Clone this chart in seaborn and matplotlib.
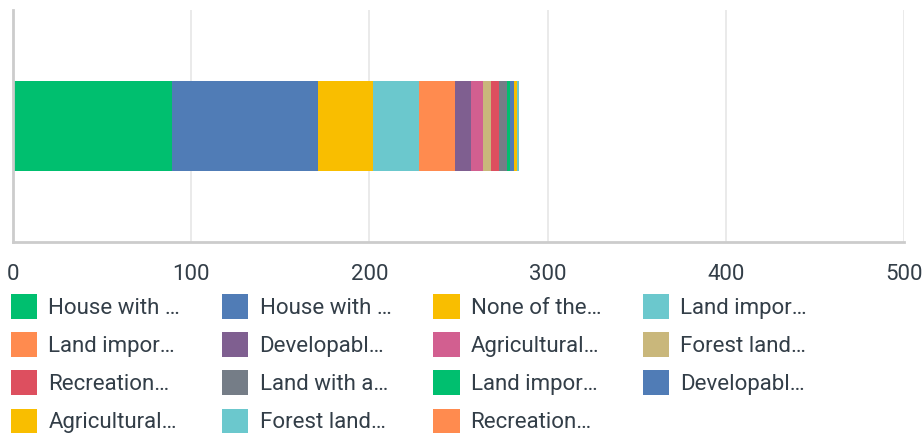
import numpy as np
import pandas as pd
import matplotlib
matplotlib.use("Agg")
import matplotlib.pyplot as plt
import seaborn as sns
from matplotlib.patches import Patch

# answer options (labels truncated as in the source chart) and response counts
labels = ["House with …", "House with …", "None of the…", "Land impor…",
          "Land impor…", "Developabl…", "Agricultural…", "Forest land…",
          "Recreation…", "Land with a…", "Land impor…", "Developabl…",
          "Agricultural…", "Forest land…", "Recreation…"]
counts = [89, 82, 31, 26, 20, 9, 7, 4, 5, 4, 2, 2, 2, 1, 0]
palette = ["#00bf6f", "#507cb6", "#f9be00", "#6bc8cd", "#ff8b4f", "#7f5f90",
           "#d25f90", "#c9b77b", "#dd4f5f", "#757d87", "#00bf6f", "#507cb6",
           "#f9be00", "#6bc8cd", "#ff8b4f"]
ticks = [0, 100, 200, 300, 400, 500]

sns.set_style("white")
plt.rcParams['font.family'] = ['Roboto', 'DejaVu Sans']
txt = "#333e48"

df = pd.DataFrame({"label": labels, "count": counts, "color": palette})
df["cum"] = df["count"].cumsum()

fig, ax = plt.subplots(figsize=(9.24, 4.33), dpi=100)
fig.subplots_adjust(left=13/924, right=904/924, top=1-10/433, bottom=1-242/433)

# stack by overdrawing cumulative bars, largest first
for i in range(len(df) - 1, -1, -1):
    sns.barplot(x=[df["cum"][i]], y=["Q"], color=df["color"][i], width=0.39,
                saturation=1, ax=ax, orient="h", linewidth=0)

ax.set_xlim(0, 500)
ax.set_xticks(ticks)
ax.set_xticklabels([str(t) for t in ticks], fontsize=16, color=txt)
ax.set_yticks([])
ax.set_ylabel("")
ax.set_xlabel("")
ax.tick_params(axis="x", length=0, pad=16)
ax.grid(axis="x", color="#e6e6e6", linewidth=1.2)
ax.set_axisbelow(True)
for s in ["top", "right"]:
    ax.spines[s].set_visible(False)
ax.spines["left"].set_color("#cccccc")
ax.spines["left"].set_linewidth(2)
ax.spines["bottom"].set_color("#cccccc")
ax.spines["bottom"].set_linewidth(2)

# legend filled row by row, 4 columns
order = [0, 4, 8, 12, 1, 5, 9, 13, 2, 6, 10, 14, 3, 7, 11]
handles = [Patch(facecolor=palette[i], edgecolor="none") for i in order]
leg_labels = [labels[i] for i in order]
leg = fig.legend(handles, leg_labels, ncol=4, loc="upper left",
                 bbox_to_anchor=(4/924, 1 - 287/433), frameon=False,
                 fontsize=16, handlelength=1.2, handleheight=1.35,
                 handletextpad=0.5, columnspacing=1.87, labelspacing=0.6,
                 borderaxespad=0, borderpad=0.3)
for t in leg.get_texts():
    t.set_color(txt)

fig.savefig("out.png", dpi=100)
